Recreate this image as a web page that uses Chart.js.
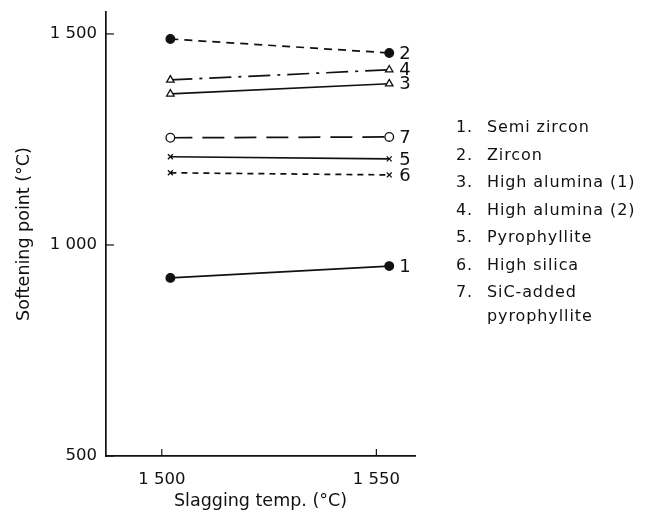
<!DOCTYPE html>
<html>
<head>
<meta charset="utf-8">
<script src="https://cdn.jsdelivr.net/npm/chart.js@4.4.1/dist/chart.umd.min.js"></script>
<style>
  html, body { margin: 0; padding: 0; background: #fff; }
  #wrap { position: relative; width: 645px; height: 516px; }
  #legend { position: absolute; left: 456px; top: 113px; font-family: "DejaVu Sans", sans-serif; font-size: 16px; letter-spacing: 0.9px; color: #111; }
  #legend div { height: 27.5px; line-height: 27.5px; white-space: nowrap; }
  #legend span { display: inline-block; width: 31px; }
  #legend .cont { padding-left: 31px; margin-top: -4px; }
</style>
</head>
<body>
<div id="wrap">
  <canvas id="chart" width="645" height="516"></canvas>
  <div id="legend"></div>
</div>
<script>
// slagging temperature for the two measurements
const slagTemps = [1502, 1553];

// softening point (°C) per brick type
const semiZircon = [922, 950];
const zircon = [1488, 1455];
const highAlumina1 = [1358, 1382];
const highAlumina2 = [1391, 1415];
const pyrophyllite = [1209, 1204];
const highSilica = [1171, 1166];
const sicPyrophyllite = [1254, 1256];

const seriesNames = ["Semi zircon", "Zircon", "High alumina (1)", "High alumina (2)", "Pyrophyllite", "High silica", "SiC-added pyrophyllite"];
const seriesNumbers = ["1", "2", "3", "4", "5", "6", "7"];

const xTicks = [1500, 1550];
const yTicks = [500, 1000, 1500];

function pts(vals) {
    return vals.map((v, i) => ({ x: slagTemps[i], y: v }));
}

function fmt(v) {
    // 1500 -> "1 500"
    return v >= 1000 ? Math.floor(v / 1000) + " " + String(v % 1000).padStart(3, "0") : String(v);
}

const ink = "#111";

function ds(i, vals, style, filled, dash) {
    return {
        label: seriesNumbers[i],
        data: pts(vals),
        showLine: true,
        borderColor: ink,
        borderWidth: 1.7,
        borderDash: dash,
        pointStyle: style,
        pointRadius: style === "crossRot" ? 3.5 : 4.3,
        pointBorderWidth: 1.3,
        pointBackgroundColor: filled ? ink : "#fff",
        pointBorderColor: ink
    };
}

// inward tick marks on both axes
const innerTicks = {
    id: "innerTicks",
    afterDraw(chart) {
        const { ctx, scales: { x, y } } = chart;
        ctx.save();
        ctx.strokeStyle = ink;
        ctx.lineWidth = 1.2;
        yTicks.forEach(v => {
            const py = y.getPixelForValue(v);
            ctx.beginPath();
            ctx.moveTo(x.left, py);
            ctx.lineTo(x.left + 8, py);
            ctx.stroke();
        });
        xTicks.forEach(v => {
            const px = x.getPixelForValue(v);
            ctx.beginPath();
            ctx.moveTo(px, y.bottom);
            ctx.lineTo(px, y.bottom - 7);
            ctx.stroke();
        });
        ctx.restore();
    }
};

// series numbers at the right end of each line
const endLabels = {
    id: "endLabels",
    afterDatasetsDraw(chart) {
        const ctx = chart.ctx;
        ctx.save();
        ctx.fillStyle = ink;
        ctx.font = "18px 'DejaVu Sans'";
        ctx.textBaseline = "middle";
        chart.data.datasets.forEach((d, i) => {
            const meta = chart.getDatasetMeta(i);
            const p = meta.data[meta.data.length - 1];
            ctx.fillText(d.label, p.x + 10, p.y + 1);
        });
        ctx.restore();
    }
};

const tickFont = { family: "DejaVu Sans", size: 16.5 };
const titleFont = { family: "DejaVu Sans", size: 17.5 };

new Chart(document.getElementById("chart"), {
    type: "scatter",
    data: {
        datasets: [
            ds(0, semiZircon, "circle", true, []),
            ds(1, zircon, "circle", true, [8, 6]),
            ds(2, highAlumina1, "triangle", false, []),
            ds(3, highAlumina2, "triangle", false, [22, 7, 3, 7]),
            ds(4, pyrophyllite, "crossRot", false, []),
            ds(5, highSilica, "crossRot", false, [6, 5]),
            ds(6, sicPyrophyllite, "circle", false, [22, 10])
        ]
    },
    options: {
        responsive: false,
        animation: false,
        layout: { padding: { left: 12, top: 12, right: 230, bottom: 4 } },
        plugins: { legend: { display: false }, tooltip: { enabled: false } },
        scales: {
            x: {
                type: "linear",
                min: 1487,
                max: 1559,
                afterBuildTicks: s => { s.ticks = xTicks.map(v => ({ value: v })); },
                afterFit: s => { s.height = 516 - 456 - 4; s.paddingLeft = 0; s.paddingRight = 0; },
                grid: { drawOnChartArea: false, drawTicks: false },
                border: { color: ink, width: 1.7 },
                ticks: { color: ink, padding: 14, font: tickFont, callback: v => fmt(v) },
                title: { display: true, text: "Slagging temp. (°C)", color: ink, font: titleFont, padding: { top: 2, bottom: 0 } }
            },
            y: {
                type: "linear",
                min: 500,
                max: 1552,
                afterBuildTicks: s => { s.ticks = yTicks.map(v => ({ value: v })); },
                afterFit: s => { s.width = 106 - 12; s.paddingTop = 0; s.paddingBottom = 0; },
                grid: { drawOnChartArea: false, drawTicks: false },
                border: { color: ink, width: 1.7 },
                ticks: { color: ink, padding: 9, font: tickFont, callback: v => fmt(v) },
                title: { display: true, text: "Softening point (°C)", color: ink, font: titleFont, padding: { top: 2, bottom: 0 } }
            }
        }
    },
    plugins: [innerTicks, endLabels]
});

// text legend on the right
const legend = document.getElementById("legend");
seriesNames.forEach((name, i) => {
    if (name.startsWith("SiC")) {
        legend.insertAdjacentHTML("beforeend", "<div><span>" + seriesNumbers[i] + ".</span>SiC-added</div><div class='cont'>pyrophyllite</div>");
    } else {
        legend.insertAdjacentHTML("beforeend", "<div><span>" + seriesNumbers[i] + ".</span>" + name + "</div>");
    }
});
</script>
</body>
</html>
